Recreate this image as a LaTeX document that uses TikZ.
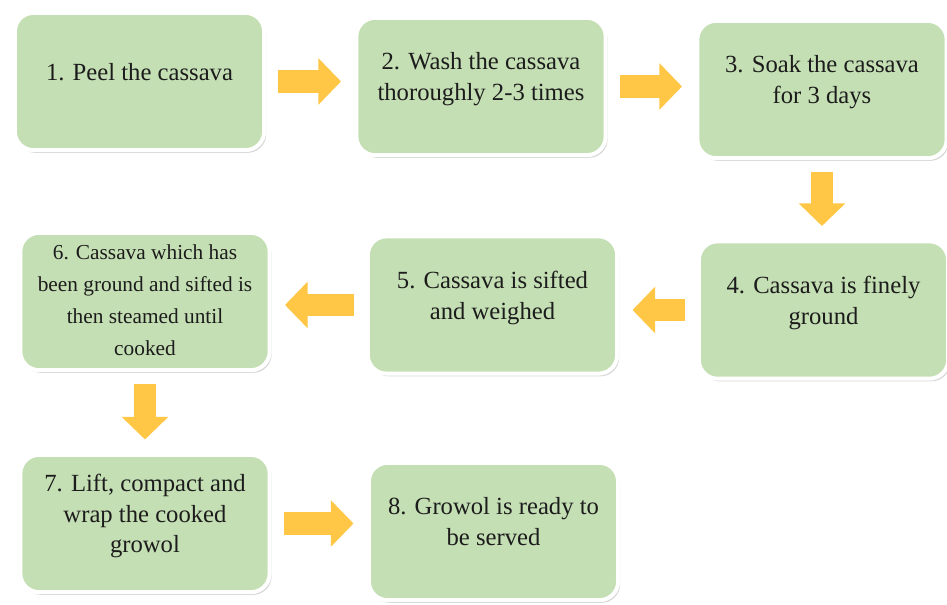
\documentclass[tikz,border=0pt]{standalone}
\usepackage{fontspec}
\setmainfont{Liberation Serif}
\newfontfamily\stepfont{Liberation Serif}
\usetikzlibrary{arrows.meta,shadows}
\definecolor{boxgreen}{HTML}{C5DFB4}
\definecolor{arrowgold}{HTML}{FFC745}
\definecolor{inkdark}{HTML}{1C1C1C}
\begin{document}
\begin{tikzpicture}[
                    x=0.75pt, y=-0.75pt,
                    stepbox/.style={rectangle, rounded corners=14pt, draw=white, line width=3pt,
                        fill=boxgreen, text=inkdark, align=center,
                        minimum width=187pt, minimum height=103pt,
                        inner xsep=4pt, inner ysep=0pt, text depth=15pt,
                        font=\stepfont\fontsize{18.5}{23}\selectfont,
                        drop shadow={fill=black!45, opacity=0.35, shadow xshift=1.5pt, shadow yshift=-2pt}},
                    flowarrow/.style={draw=arrowgold, line width=17pt,
                        -{Triangle[length=17pt, width=34pt]},
                        shorten <=9pt, shorten >=10pt},
                ]
                \useasboundingbox (0,0) rectangle (947,605);
                \fill[white] (0,0) rectangle (947,605);
                % process steps
                \node[stepbox] (s1) at (139.5,81.5) {1. Peel the cassava};
                \node[stepbox] (s2) at (481,86.5) {2. Wash the cassava\\thoroughly 2-3 times};
                \node[stepbox] (s3) at (822,89.5) {3. Soak the cassava\\for 3 days};
                \node[stepbox] (s4) at (823.5,310) {4. Cassava is finely\\ground};
                \node[stepbox] (s5) at (492.5,305) {5. Cassava is sifted\\and weighed};
                \node[stepbox, text depth=2pt, font=\stepfont\fontsize{16}{24}\selectfont] (s6) at (145,301.5)
                    {6. Cassava which has\\been ground and sifted is\\then steamed until\\cooked};
                \node[stepbox] (s7) at (145,523.5) {7. Lift, compact and\\wrap the cooked\\growol};
                \node[stepbox] (s8) at (493.5,531.5) {8. Growol is ready to\\be served};
                % arrows between steps
                \draw[flowarrow] (s1) -- (s1 -| s2.west);
                \draw[flowarrow] (s2) -- (s2 -| s3.west);
                \draw[flowarrow] (s3) -- (s3 |- s4.north);
                \draw[flowarrow] (s4) -- (s4 -| s5.east);
                \draw[flowarrow] (s5) -- (s5 -| s6.east);
                \draw[flowarrow] (s6) -- (s6 |- s7.north);
                \draw[flowarrow] (s7) -- (s7 -| s8.west);
                \end{tikzpicture}
\end{document}
